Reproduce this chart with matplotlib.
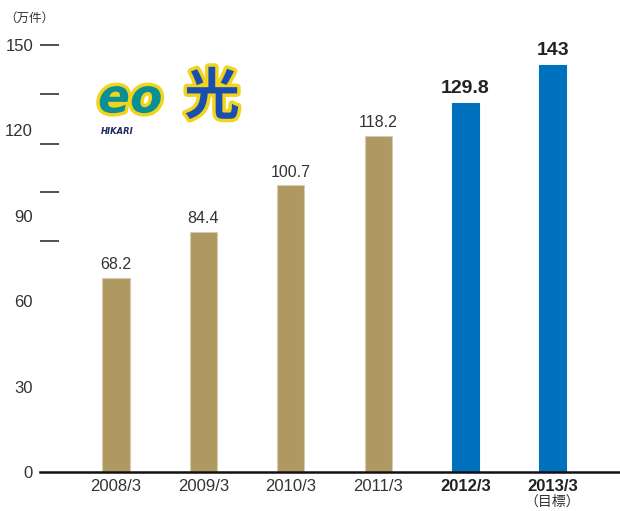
import matplotlib
matplotlib.use("Agg")
import matplotlib.pyplot as plt
import matplotlib.patheffects as pe
from matplotlib import font_manager

categories = ["2008/3", "2009/3", "2010/3", "2011/3", "2012/3", "2013/3"]
values = [68.2, 84.4, 100.7, 118.2, 129.8, 143]
value_labels = ["68.2", "84.4", "100.7", "118.2", "129.8", "143"]
highlight = [False, False, False, False, True, True]
yticks = [0, 30, 60, 90, 120, 150]
dash_ticks = [81.1, 98.3, 115.2, 132.8, 150]

names = {f.name for f in font_manager.fontManager.ttflist}
narrow = "Liberation Sans Narrow" if "Liberation Sans Narrow" in names else "Liberation Sans"
FONT = [narrow, "DejaVu Sans"]
CJK = ["Noto Sans CJK JP", "DejaVu Sans"]

tan = "#b09862"
tan_edge = "#d8cbb0"
blue = "#0071bc"
txt = "#333333"

fig = plt.figure(figsize=(6.2, 5.11), dpi=100)
W, H = 620, 511
ax = fig.add_axes([40 / W, 39 / H, 580 / W, (472 - 45) / H])

x = list(range(len(categories)))
colors = [blue if h else tan for h in highlight]
for xi, v, c, h in zip(x, values, colors, highlight):
    ax.bar(xi, v, width=0.31, color=c, edgecolor=(c if h else tan_edge), linewidth=0.8, zorder=2)

for xi, v, lab, h in zip(x, values, value_labels, highlight):
    ax.annotate(lab, (xi, v), xytext=(0, 4), textcoords="offset points",
                ha="center", va="bottom", clip_on=False,
                fontsize=14 if h else 11.5, fontweight="bold" if h else "normal",
                color="#222222" if h else txt, family=FONT)

ax.set_xlim(-0.87, 5.77)
ax.set_ylim(0, 150)

ax.yaxis.remove_overlapping_locs = False
ax.set_yticks(yticks)
ax.set_yticklabels([str(t) for t in yticks], family=FONT, fontsize=12, color=txt)
ax.tick_params(axis="y", which="major", length=0, pad=5)
ax.set_yticks(dash_ticks, minor=True)
ax.tick_params(axis="y", which="minor", length=14, width=1.1, color="#222222", direction="in")

ax.set_xticks(x)
ax.set_xticklabels(categories, family=FONT, fontsize=12, color=txt)
for lab, h in zip(ax.get_xticklabels(), highlight):
    if h:
        lab.set_fontweight("bold")
        lab.set_color("#222222")
ax.tick_params(axis="x", length=0, pad=5)

for s in ["left", "right", "top"]:
    ax.spines[s].set_visible(False)
ax.spines["bottom"].set_linewidth(1.8)
ax.spines["bottom"].set_color("#111111")
ax.spines["bottom"].set_zorder(3)

fig.text(4 / W, 1 - 18 / H, "（万件）", family=CJK, fontsize=9, color=txt, va="center", ha="left")
fig.text(552 / W, 1 - 502 / H, "（目標）", family=CJK, fontsize=10, color=txt, va="center", ha="center")

# logo approximation
outline = [pe.withStroke(linewidth=5, foreground="#f2d41c")]
fig.text(98 / W, 1 - 100 / H, "eo", family=["DejaVu Sans"], fontsize=34, fontweight="bold",
         style="italic", color="#0a8f96", va="center", ha="left", path_effects=outline)
fig.text(212 / W, 1 - 98 / H, "光", family=CJK, fontsize=40, fontweight="bold",
         color="#1a4fb0", va="center", ha="center", path_effects=outline)
fig.text(101 / W, 1 - 131 / H, "HIKARI", family=["DejaVu Sans"], fontsize=6, fontweight="bold",
         style="italic", color="#1c2a60", va="center", ha="left")

fig.savefig("out.png", dpi=100)
